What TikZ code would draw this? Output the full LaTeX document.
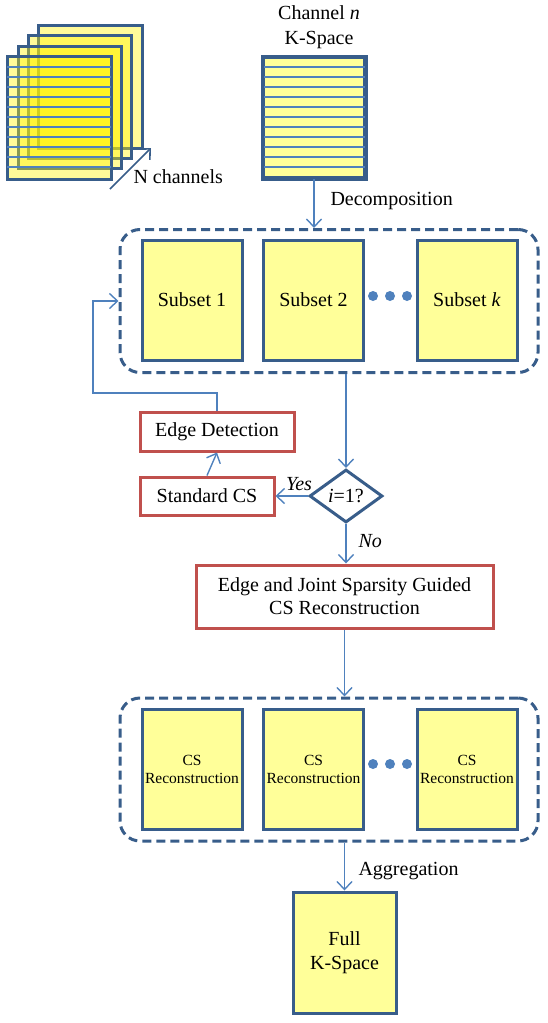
\documentclass[tikz,border=0pt]{standalone}
\usepackage{fontspec}
\setmainfont{Liberation Serif}
\usetikzlibrary{arrows.meta,shapes.geometric}
\definecolor{dblue}{HTML}{385D8A}
\definecolor{lblue}{HTML}{4F81BD}
\definecolor{rred}{HTML}{C0504D}
\definecolor{pyel}{HTML}{FFFF99}
\begin{document}
\begin{tikzpicture}[x=1pt,y=-1pt,
  every node/.style={font=\fontsize{20}{24}\selectfont},
  ybox/.style={draw=dblue,line width=3pt,fill=pyel,inner sep=0pt,minimum width=100pt,minimum height=120pt,align=center},
  rbox/.style={draw=rred,line width=3pt,fill=white,inner sep=0pt,align=center},
  cont/.style={draw=dblue,line width=3pt,dash pattern=on 9pt off 5pt,rounded corners=20pt,inner sep=0pt,minimum width=418pt,minimum height=143pt},
  arr/.style={draw=lblue,line width=1.4pt,-{Straight Barb[length=8pt,width=15pt,line width=1.4pt]}},
  bdot/.style={circle,fill=lblue,inner sep=0pt,minimum size=10pt},
  kline/.style={draw=lblue,line width=1.2pt},
  frame/.style={draw=dblue,line width=3pt,fill=yellow,fill opacity=0.4},
  small/.style={font=\fontsize{15.5}{18}\selectfont}
  ]
\useasboundingbox (0,0) rectangle (547,1023);

% stack of channels
\draw[frame] (38,25) rectangle (142,148);
\draw[frame] (28,35) rectangle (131,158);
\draw[frame] (18,46) rectangle (121,168);
\draw[frame] (7,56) rectangle (111,179);
\foreach \y in {67,77,...,167} \draw[kline] (7,\y) -- (111,\y);
\coordinate (na) at (110,189);
\coordinate (nb) at (151,148);
\draw[draw=dblue,line width=1.6pt,-{Straight Barb[length=8pt,width=15pt,line width=1.6pt]}] (na) -- (nb);
\node[anchor=west] (nch) at (130,177) {N channels};

% channel n
\node (chtxt) at (319,27.5) [align=center,font=\fontsize{20}{25}\selectfont] {Channel \textit{n}\\K-Space};
\node[ybox,minimum width=101pt] (chn) at (314,117.5) {};
\foreach \y in {67,77,...,167} \draw[kline] (262,\y) -- (366,\y);
\draw[draw=dblue,line width=3pt] (262,56) rectangle (366,179);

% container 1
\node[cont] (c1) at (329,301) {};
\node[ybox] (s1) at (192,300) {Subset 1};
\node[ybox] (s2) at (313.5,300) {Subset 2};
\node[ybox] (sk) at (467,300) {Subset \textit{k}};
\node[bdot] (d1) at (373,296) {};
\node[bdot] (d2) at (390,296) {};
\node[bdot] (d3) at (407,296) {};

\draw[arr] (chn.south) -- (chn.south |- c1.north);
\node[anchor=west] (dec) at (327,201) {Decomposition};

% decision
\node[diamond,draw=dblue,line width=3pt,fill=white,inner sep=0pt,aspect=1.4,minimum width=73pt,minimum height=53pt] (dia) at (346,496) {\textit{i}=1?};
\node[rbox,minimum width=134pt,minimum height=38pt] (sc) at (207,496) {Standard CS};
\node[rbox,minimum width=154pt,minimum height=39pt] (ed) at (217,431.5) {Edge Detection};
\node[rbox,minimum width=297pt,minimum height=63pt,font=\fontsize{20}{23}\selectfont] (ej) at (344.5,596.5) {Edge and Joint Sparsity Guided\\CS Reconstruction};

\draw[arr] (dia.north |- c1.south) -- (dia.north);
\draw[arr] (dia.west) -- (sc.east);
\node (yes) at (299,484) {\textit{Yes}};
\draw[arr] (sc.north) -- (ed.south);
\coordinate (lp) at (93,393);
\draw[arr] (ed.north) |- (lp) |- (c1.west);
\draw[arr] (dia.south) -- (dia.south |- ej.north);
\node[anchor=west] (no) at (355,541) {\textit{No}};

% container 2
\node[cont] (c2) at (329,769.5) {};
\node[ybox,small] (r1) at (192,769.5) {CS\\Reconstruction};
\node[ybox,small] (r2) at (313.5,769.5) {CS\\Reconstruction};
\node[ybox,small] (rk) at (467,769.5) {CS\\Reconstruction};
\node[bdot] (e1) at (373,764) {};
\node[bdot] (e2) at (390,764) {};
\node[bdot] (e3) at (407,764) {};
\draw[arr] (ej.south) -- (ej.south |- c2.north);

% full k-space
\node[ybox,minimum width=103pt,minimum height=121pt] (full) at (344.5,952.5) {Full\\K-Space};
\draw[arr] (full.north |- c2.south) -- (full.north);
\node[anchor=west] (agg) at (355,871) {Aggregation};
\end{tikzpicture}
\end{document}
